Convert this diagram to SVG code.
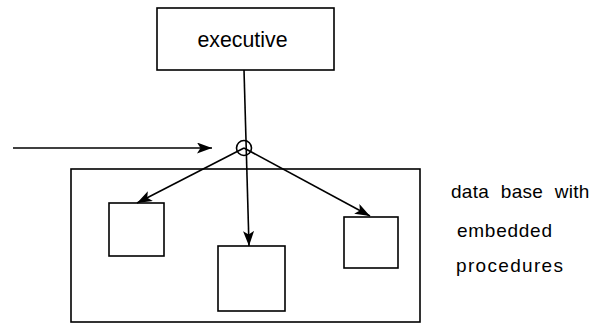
<svg xmlns="http://www.w3.org/2000/svg" width="598" height="324" viewBox="0 0 598 324">
<style>
.box{fill:none;stroke:#000;stroke-width:1.6}
.ln{fill:none;stroke:#000;stroke-width:1.6}
.t{font-family:"Liberation Sans",Arial,sans-serif;fill:#000}
</style>
<defs>
<marker id="ah" markerUnits="userSpaceOnUse" markerWidth="18" markerHeight="12" refX="15" refY="5.5" orient="auto">
<path d="M0,0 L15,5.5 L0,11 L3.5,5.5 z" fill="#000"/>
</marker>
</defs>
<rect width="598" height="324" fill="#fff"/>
<g id="executive">
<rect class="box" x="157" y="8" width="177" height="62"/>
<text class="t" x="242.5" y="47" font-size="22" text-anchor="middle" textLength="90" lengthAdjust="spacingAndGlyphs">executive</text>
</g>
<g id="database">
<rect class="box" x="71" y="169" width="349" height="153"/>
</g>
<g id="proc-left">
<rect class="box" x="109" y="203" width="55" height="53"/>
</g>
<g id="proc-middle">
<rect class="box" x="218" y="246" width="67" height="65"/>
</g>
<g id="proc-right">
<rect class="box" x="344" y="217" width="54" height="51"/>
</g>
<g id="junction">
<circle class="ln" cx="244" cy="148" r="7.5"/>
</g>
<g id="connectors">
<line class="ln" x1="13" y1="148" x2="212" y2="148" marker-end="url(#ah)"/>
<line class="ln" x1="244" y1="70" x2="249" y2="246" marker-end="url(#ah)"/>
<line class="ln" x1="244" y1="148" x2="137" y2="203" marker-end="url(#ah)"/>
<line class="ln" x1="244" y1="148" x2="370" y2="216" marker-end="url(#ah)"/>
</g>
<g id="label">
<text class="t" x="451" y="198" font-size="19" word-spacing="6" letter-spacing="0.3">data base with</text>
<text class="t" x="457" y="237" font-size="19" textLength="95" lengthAdjust="spacing">embedded</text>
<text class="t" x="456" y="272" font-size="19" textLength="107" lengthAdjust="spacing">procedures</text>
</g>
</svg>
